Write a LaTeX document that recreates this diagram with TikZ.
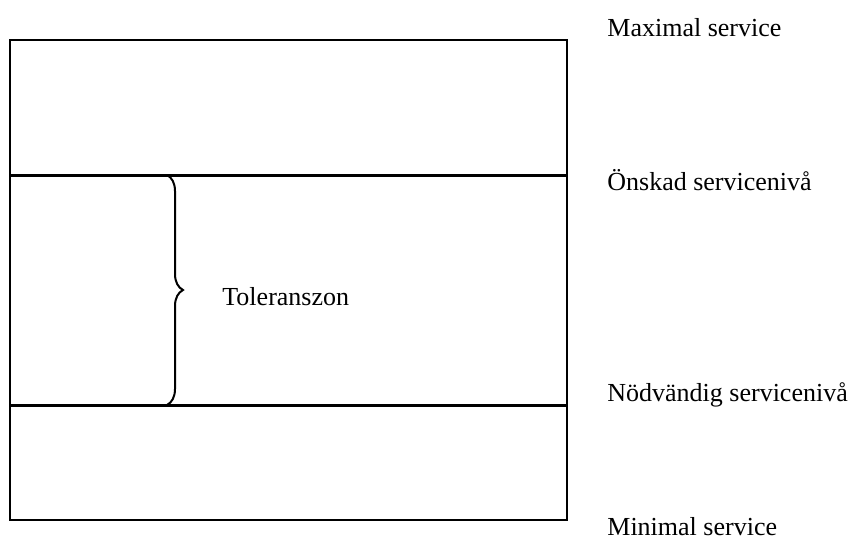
\documentclass[tikz,border=0pt]{standalone}
\usepackage{fontspec}
\setmainfont{Liberation Serif}
\usetikzlibrary{decorations.pathreplacing}

\begin{document}
\begin{tikzpicture}[
    x=0.5pt, y=-0.5pt,
    frame/.style={draw, line width=0.65pt},
    level/.style={draw, line width=1.5pt},
    zone/.style={draw, line width=1pt, decorate, decoration={brace, amplitude=8}},
    tag/.style={anchor=base west, inner sep=0pt, font=\fontsize{13}{15}\selectfont}
]

% Canvas
\useasboundingbox (0,0) rectangle (853,538);

% Corners and levels
\coordinate (tl) at (10,40);
\coordinate (br) at (567,520);
\coordinate (hiL) at (10,175);
\coordinate (hiR) at (567,175);
\coordinate (loL) at (10,405);
\coordinate (loR) at (567,405);

% Frame and the two service levels
\draw[frame] (tl) rectangle (br);
\draw[level] (hiL) -- (hiR);
\draw[level] (loL) -- (loR);

% Tolerance zone
\coordinate (zTop) at (167,175);
\coordinate (zBot) at (167,405);
\draw[zone] (zTop) -- (zBot);
\node[tag] (zon) at (222,305) {Toleranszon};

% Level labels
\node[tag] (max) at (607,36) {Maximal service};
\node[tag] (desired) at (607,190) {Önskad servicenivå};
\node[tag] (needed) at (607,401) {Nödvändig servicenivå};
\node[tag] (min) at (607,535) {Minimal service};

\end{tikzpicture}
\end{document}
